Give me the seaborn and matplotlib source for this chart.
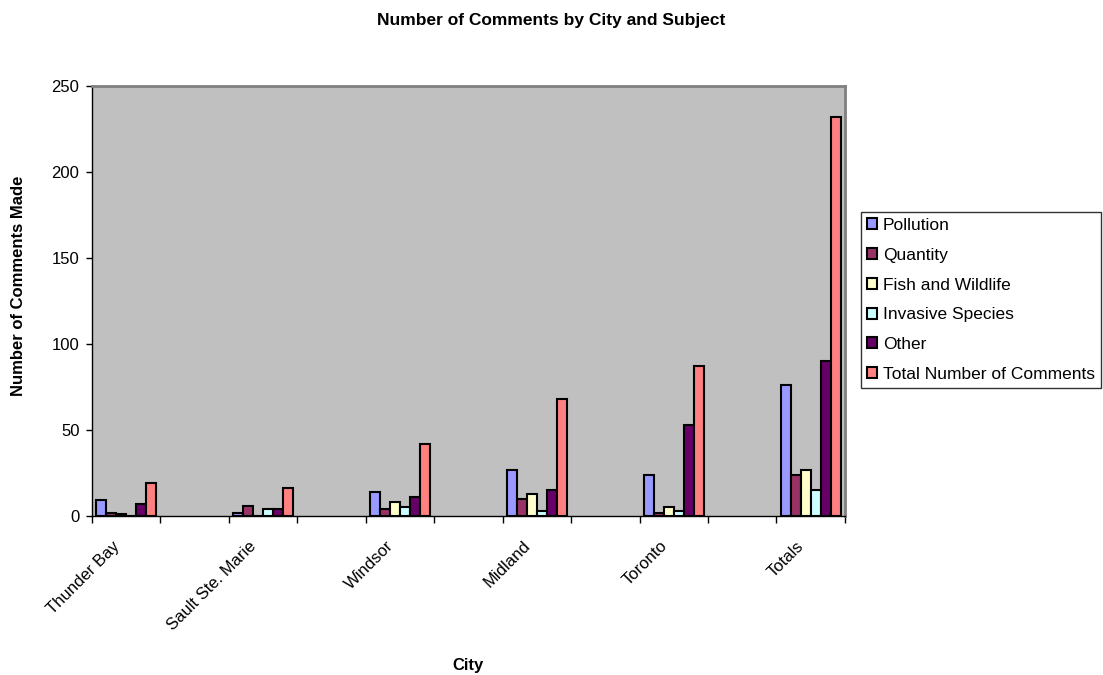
import pandas as pd
import matplotlib.pyplot as plt
import matplotlib.transforms as mtransforms
import seaborn as sns

# Podaci
cities = ['Thunder Bay', 'Sault Ste. Marie', 'Windsor', 'Midland', 'Toronto', 'Totals']
subjects = ['Pollution', 'Quantity', 'Fish and Wildlife', 'Invasive Species', 'Other',
            'Total Number of Comments']
pollution = [9, 2, 14, 27, 24, 76]
quantity = [2, 6, 4, 10, 2, 24]
fish_wildlife = [1, 0, 8, 13, 5, 27]
invasive = [0, 4, 5, 3, 3, 15]
other = [7, 4, 11, 15, 53, 90]
total = [19, 16, 42, 68, 87, 232]
colors = ['#9999FF', '#993366', '#FFFFCC', '#CCFFFF', '#660066', '#FF8080']

series = [pollution, quantity, fish_wildlife, invasive, other, total]
rows = []
for subj, vals in zip(subjects, series):
    for c, v in zip(cities, vals):
        rows.append({'City': c, 'Subject': subj, 'Count': v})
df = pd.DataFrame(rows)

# prazne kategorije izmedju gradova (kao u Excelu)
order = []
for i, c in enumerate(cities):
    order.append(c)
    if i < len(cities) - 1:
        order.append(f'_gap{i}')

sns.set_style('white')
plt.rcParams['font.family'] = ['Liberation Sans', 'DejaVu Sans']
plt.rcParams['text.color'] = 'black'
plt.rcParams['axes.labelcolor'] = 'black'
plt.rcParams['xtick.color'] = 'black'
plt.rcParams['ytick.color'] = 'black'

fig = plt.figure(figsize=(11.03, 6.75), dpi=100)
ax = fig.add_axes([0.0834, 0.2356, 0.6826, 0.637])
ax.set_facecolor('#C0C0C0')

sns.barplot(data=df, x='City', y='Count', hue='Subject', order=order, hue_order=subjects,
            palette=colors, width=0.88, edgecolor='black', linewidth=1.5,
            saturation=1, ax=ax, errorbar=None)

ax.set_ylim(0, 250)
ax.set_xlim(-0.5, len(order) - 0.5)
ax.set_yticks(range(0, 251, 50))
ax.tick_params(axis='y', labelsize=12, length=4, direction='out', left=True, width=1, pad=5)

centers = list(range(len(order)))
ax.set_xticks(centers)
ax.set_xticklabels([c if not c.startswith('_gap') else '' for c in order],
                   rotation=45, ha='right', va='center', rotation_mode='anchor', fontsize=12)
ax.tick_params(axis='x', length=0, pad=20)
ax.set_xticks([i - 0.5 for i in range(len(order) + 1)], minor=True)
ax.tick_params(axis='x', which='minor', length=5, direction='out', bottom=True, width=1)

# pomak oznaka malo ulijevo
offset = mtransforms.ScaledTranslation(-9 / 100, 0, fig.dpi_scale_trans)
for lbl in ax.get_xticklabels():
    lbl.set_transform(lbl.get_transform() + offset)

for s in ['top', 'right']:
    ax.spines[s].set_color('#808080')
    ax.spines[s].set_linewidth(2)
for s in ['left', 'bottom']:
    ax.spines[s].set_color('black')
    ax.spines[s].set_linewidth(1)

ax.set_xlabel('City', fontsize=12, fontweight='bold')
ax.xaxis.set_label_coords(0.5, -0.33)
ax.set_ylabel('Number of Comments Made', fontsize=12, fontweight='bold')
ax.yaxis.set_label_coords(-0.087, 0.536)
fig.text(0.5, 1 - 20 / 675, 'Number of Comments by City and Subject', ha='center', va='center',
         fontsize=12.5, fontweight='bold')

handles, labels = ax.get_legend_handles_labels()
ax.legend_.remove()
leg = fig.legend(handles, labels, loc='upper left', bbox_to_anchor=(0.7806, 0.686),
                 frameon=True, fancybox=False, edgecolor='black', fontsize=12.5,
                 handlelength=0.6, handleheight=0.6, handletextpad=0.3,
                 labelspacing=0.85, borderpad=0.35, borderaxespad=0)
leg.get_frame().set_linewidth(1)

plt.savefig('out.png', dpi=100)
